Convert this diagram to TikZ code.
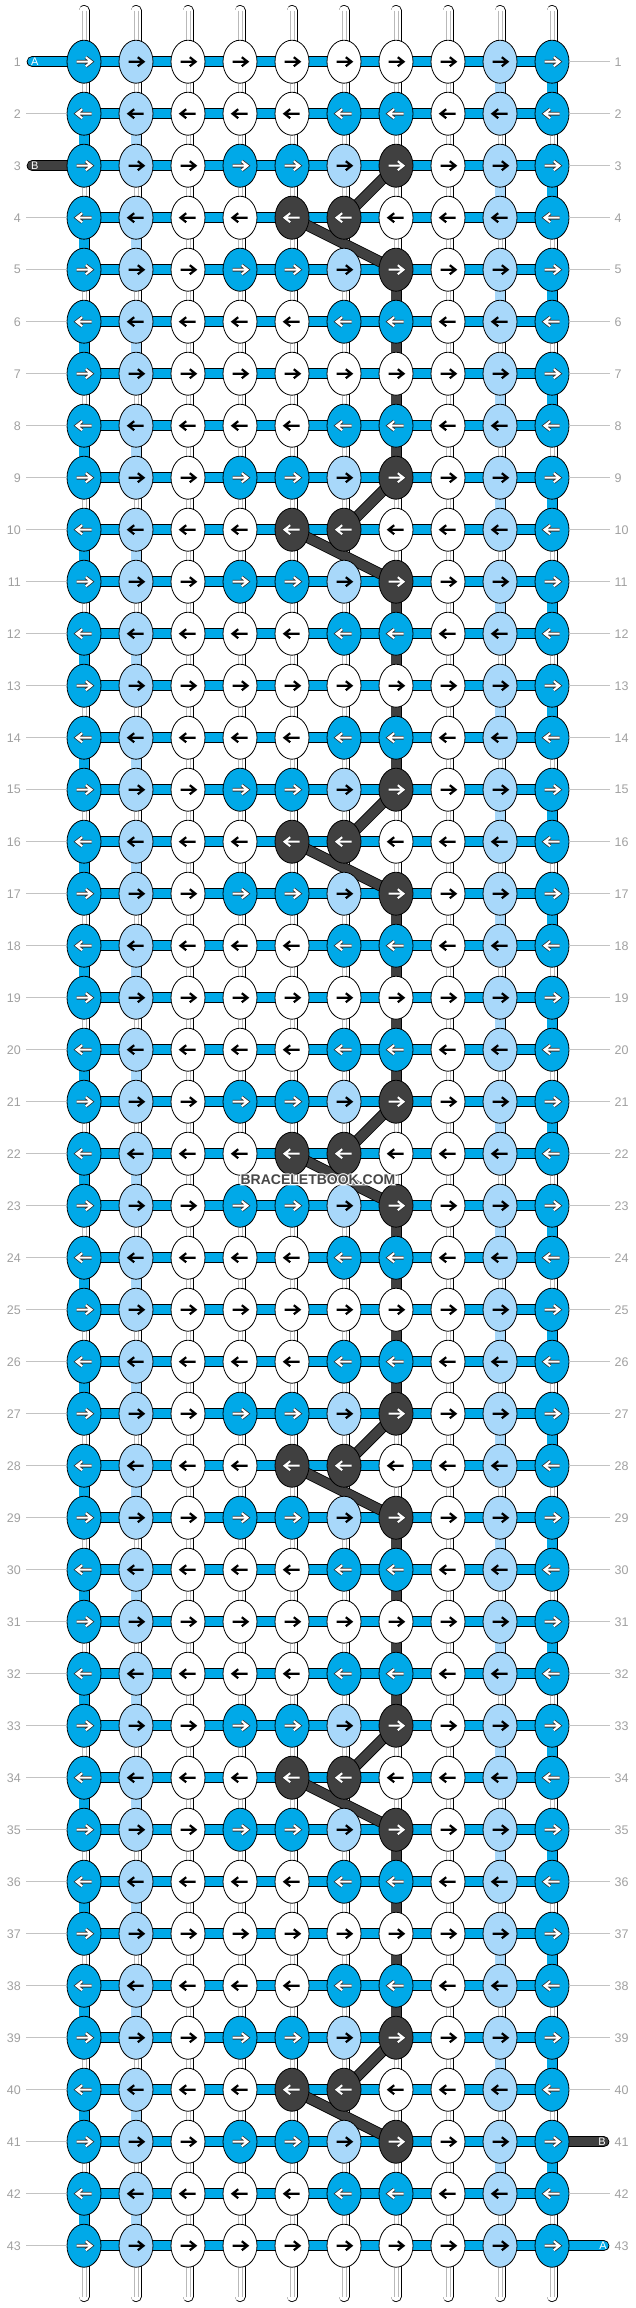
\documentclass[tikz,border=0pt]{standalone}
\usepackage{fontspec}
\setmainfont{Liberation Sans}
\usetikzlibrary{shapes.geometric}
\definecolor{cD}{RGB}{0,169,232}
\definecolor{cL}{RGB}{168,216,250}
\definecolor{cK}{RGB}{64,64,64}
\definecolor{numgray}{RGB}{160,160,160}
\definecolor{guidegray}{RGB}{195,195,195}
\pgfdeclarelayer{bg}
\pgfdeclarelayer{mid}
\pgfsetlayers{bg,mid,main}
\def\patZ{D,L,W,W,W,D,D,W,L,D}
\def\patA{D,L,W,W,W,W,W,W,L,D}
\def\patB{D,L,W,W,W,D,D,W,L,D}
\def\patC{D,L,W,D,D,L,K,W,L,D}
\def\patE{D,L,W,W,K,K,W,W,L,D}
\def\patF{D,L,W,D,D,L,K,W,L,D}
\newif\ifwhitearrow
\tikzset{
  knot/.style={ellipse, draw=black, line width=0.8pt, minimum width=34pt, minimum height=43pt, inner sep=0pt},
  kD/.style={fill=cD}, kL/.style={fill=cL}, kW/.style={fill=white}, kK/.style={fill=cK},
  linkbase/.style={draw=black, line width=0.8pt, double distance=9.4pt},
  linkD/.style={linkbase, double=cD},
  linkL/.style={linkbase, double=cL},
  linkW/.style={linkbase, double=white},
  linkK/.style={linkbase, double=cK},
  tubeline/.style={draw=gray!55, line width=0.6pt},
  diag/.style={linkbase, double=cK},
  stubD/.style={linkD, line cap=round},
  stubK/.style={linkK, line cap=round},
  arrblk/.style={draw=black, line width=2.2pt, line join=miter},
  arrout/.style={draw=black!80, line width=3.6pt, line join=miter},
  arrin/.style={draw=white, line width=2.0pt, line join=miter},
  rownum/.style={text=numgray, font=\fontsize{12.5}{14}\selectfont, inner sep=0pt},
  guide/.style={draw=guidegray, line width=0.8pt},
  stublbl/.style={text=white, font=\fontsize{11}{12}\selectfont, inner sep=0pt},
  wmfont/.style={font=\bfseries\fontsize{14}{16}\selectfont, inner sep=1pt},
  wmbox/.style={wmfont, fill=white, fill opacity=0.4, text opacity=0},
  wmhalo/.style={wmfont, text=white},
  wmtext/.style={wmfont, text=black!72}
}
\begin{document}
\begin{tikzpicture}[x=1pt,y=-1pt]
\useasboundingbox (0,0) rectangle (636,2308);
% knots
\foreach \rr in {1,...,43}{
  \pgfmathtruncatemacro{\mm}{mod(\rr,6)}
  \pgfmathtruncatemacro{\dd}{ifthenelse(mod(\rr,2)==1,1,-1)}
  \ifcase\mm \let\pat\patZ\or \let\pat\patA\or \let\pat\patB\or \let\pat\patC\or \let\pat\patE\or \let\pat\patF\fi
  \foreach \col [count=\cc] in \pat {
    \node[knot, k\col] (k-\rr-\cc) at ({84+52*(\cc-1)}, {61.7+52*(\rr-1)}) {};
    \whitearrowfalse
    \if\col D\whitearrowtrue\fi
    \if\col K\whitearrowtrue\fi
    \begin{scope}[shift={(k-\rr-\cc.center)}, xscale=\dd]
      \ifwhitearrow
        \draw[arrout] (-7.5,0) -- (6.8,0) (1.8,-4.5) -- (7.5,0) -- (1.8,4.5);
        \draw[arrin] (-7.5,0) -- (6.8,0) (1.8,-4.5) -- (7.5,0) -- (1.8,4.5);
      \else
        \draw[arrblk] (-7.5,0) -- (6.8,0) (1.8,-4.5) -- (7.5,0) -- (1.8,4.5);
      \fi
    \end{scope}
  }
  % row labels
  \node[rownum, anchor=east] (L\rr) at (21, {61.7+52*(\rr-1)}) {\rr};
  \node[rownum, anchor=west] (R\rr) at (614.5, {61.7+52*(\rr-1)}) {\rr};
}
% guides
\foreach \rr in {1,...,43}{
  \ifnum\rr=1 \else\ifnum\rr=3 \else
    \draw[guide] ([xshift=5pt]L\rr.east) -- (k-\rr-1.west);
  \fi\fi
  \ifnum\rr=41 \else\ifnum\rr=43 \else
    \draw[guide] (k-\rr-10.east) -- ([xshift=-4.5pt]R\rr.west);
  \fi\fi
}
\begin{pgfonlayer}{bg}
  % top and bottom threads
  \foreach \cc in {1,...,10}{
    \coordinate (top\cc) at ({84+52*(\cc-1)}, 10.5);
    \coordinate (bot\cc) at ({84+52*(\cc-1)}, 2296.5);
    \draw[linkW, line cap=round] (top\cc) -- (k-1-\cc.center);
    \draw[tubeline] ([xshift=-1.8pt]top\cc) -- ([xshift=-1.8pt]k-1-\cc.center)
                    ([xshift=1.8pt]top\cc) -- ([xshift=1.8pt]k-1-\cc.center);
    \draw[linkW, line cap=round] (k-43-\cc.center) -- (bot\cc);
    \draw[tubeline] ([xshift=-1.8pt]k-43-\cc.center) -- ([xshift=-1.8pt]bot\cc)
                    ([xshift=1.8pt]k-43-\cc.center) -- ([xshift=1.8pt]bot\cc);
  }
  % horizontal bars
  \foreach \rr in {1,...,43}{
    \foreach \cc in {1,...,9}{
      \pgfmathtruncatemacro{\cn}{\cc+1}
      \draw[linkD] (k-\rr-\cc.center) -- (k-\rr-\cn.center);
    }
  }
  % vertical links
  \foreach \rr in {1,...,42}{
    \pgfmathtruncatemacro{\rn}{\rr+1}
    \pgfmathtruncatemacro{\mm}{mod(\rr,6)}
    \pgfmathtruncatemacro{\pp}{mod(\rr,2)}
    \foreach \cc in {1,...,10}{
      \def\lt{W}
      \ifnum\cc=1 \ifnum\pp=0 \def\lt{D}\fi\fi
      \ifnum\cc=2 \ifnum\pp=0 \def\lt{L}\fi\fi
      \ifnum\cc=9 \ifnum\pp=1 \def\lt{L}\fi\fi
      \ifnum\cc=10 \ifnum\pp=1 \def\lt{D}\fi\fi
      \ifnum\cc=7 \ifnum\rr>4 \ifnum\rr<39
        \ifnum\mm=3 \else\ifnum\mm=4 \else \def\lt{K}\fi\fi
      \fi\fi\fi
      \draw[link\lt] (k-\rr-\cc.center) -- (k-\rn-\cc.center);
      \if\lt W
        \draw[tubeline] ([xshift=-1.8pt]k-\rr-\cc.center) -- ([xshift=-1.8pt]k-\rn-\cc.center)
                        ([xshift=1.8pt]k-\rr-\cc.center) -- ([xshift=1.8pt]k-\rn-\cc.center);
      \fi
    }
  }
  % end stubs
  \coordinate (sA1) at (32.2, 61.7);
  \coordinate (sB1) at (32.2, 165.7);
  \coordinate (sB2) at (603.8, 2141.7);
  \coordinate (sA2) at (603.8, 2245.7);
  \draw[stubD] (sA1) -- (k-1-1.center);
  \draw[stubK] (sB1) -- (k-3-1.center);
  \draw[stubK] (k-41-10.center) -- (sB2);
  \draw[stubD] (k-43-10.center) -- (sA2);
\end{pgfonlayer}
\begin{pgfonlayer}{mid}
  \foreach \kk in {0,...,6}{
    \pgfmathtruncatemacro{\ra}{3+6*\kk}
    \pgfmathtruncatemacro{\rb}{4+6*\kk}
    \pgfmathtruncatemacro{\rc}{5+6*\kk}
    \draw[diag] (k-\ra-7.center) -- (k-\rb-6.center);
    \draw[diag] (k-\rb-5.center) -- (k-\rc-7.center);
  }
\end{pgfonlayer}
% stub labels
\node[stublbl] (lA1) at (34.7, 61.7) {A};
\node[stublbl] (lB1) at (34.7, 165.7) {B};
\node[stublbl] (lB2) at (602, 2141.7) {B};
\node[stublbl] (lA2) at (603, 2245.7) {A};
% watermark
\node[wmbox] (wm) at (318, 1180) {BRACELETBOOK.COM};
\foreach \aa in {0,45,...,315}{
  \node[wmhalo] (wmh\aa) at ([shift={(\aa:1)}]wm.center) {BRACELETBOOK.COM};
}
\node[wmtext] (wmt) at (wm.center) {BRACELETBOOK.COM};
\end{tikzpicture}
\end{document}
